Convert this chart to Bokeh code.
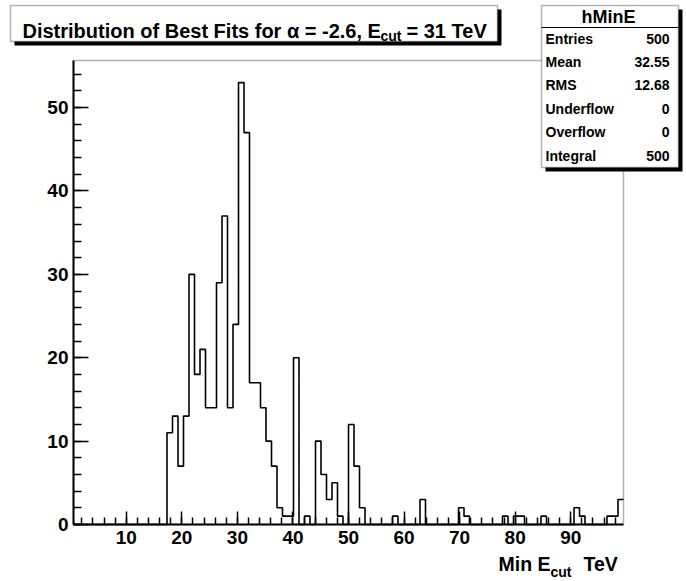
from bokeh.plotting import figure
from bokeh.models import Label, BoxAnnotation, SingleIntervalTicker, Range1d
from bokeh.embed import file_html
from bokeh.resources import INLINE
import numpy as np

# Histogram definition: 100 bins spanning [0.5, 99.5]
X_MIN, X_MAX, N_BINS = 0.5, 99.5, 100

# Bin contents of hMinE (one row = 10 bins)
counts = [
    0, 0, 0, 0, 0, 0, 0, 0, 0, 0,
    0, 0, 0, 0, 0, 0, 0, 11, 13, 7,
    13, 30, 18, 21, 14, 14, 29, 37, 14, 24,
    53, 47, 17, 17, 14, 10, 7, 2, 1, 1,
    20, 0, 1, 0, 10, 6, 3, 5, 1, 0,
    12, 7, 2, 0, 0, 0, 0, 0, 1, 0,
    0, 0, 0, 3, 0, 0, 0, 0, 0, 0,
    2, 1, 0, 0, 0, 0, 0, 0, 1, 0,
    1, 1, 0, 0, 0, 1, 0, 0, 0, 0,
    0, 2, 1, 0, 0, 0, 0, 1, 1, 3,
]

stat_names = ["Entries", "Mean", "RMS", "Underflow", "Overflow", "Integral"]
stat_values = ["500", "32.55", "12.68", "0", "0", "500"]
hist_name = "hMinE"

FONT = "Liberation Sans"

# canvas size and the pixel box that holds the histogram pad
W, H = 686, 581
PAD_L, PAD_R, PAD_T, PAD_B = 73, 623, 60, 524

edges = np.linspace(X_MIN, X_MAX, N_BINS + 1)
Y_MIN, Y_MAX = 0.0, 1.05 * max(counts)

# The plot frame spans the whole canvas so that the title and statistics
# panels can sit anywhere; the data ranges are widened so that the pad
# [X_MIN, X_MAX] x [Y_MIN, Y_MAX] lands on the pad box above.
sx = (PAD_R - PAD_L) / (X_MAX - X_MIN)
sy = (PAD_B - PAD_T) / (Y_MAX - Y_MIN)
x_range = Range1d(X_MIN - PAD_L / sx, X_MAX + (W - PAD_R) / sx)
y_range = Range1d(Y_MIN - (H - PAD_B) / sy, Y_MAX + PAD_T / sy)

p = figure(width=W, height=H, output_backend="svg", toolbar_location=None,
           x_range=x_range, y_range=y_range, min_border=0)
p.grid.visible = False
p.background_fill_color = "white"
p.border_fill_color = "white"
p.outline_line_color = None

# pad frame
p.add_layout(BoxAnnotation(left=X_MIN, right=X_MAX, bottom=Y_MIN, top=Y_MAX,
                           fill_color=None, fill_alpha=0,
                           line_color="black", line_width=1.5))

# histogram outline
p.step(list(edges), counts + [counts[-1]], mode="after",
       line_color="black", line_width=1.6)

p.xaxis.fixed_location = Y_MIN
p.xaxis.bounds = (X_MIN, X_MAX)
p.yaxis.fixed_location = X_MIN
p.yaxis.bounds = (Y_MIN, Y_MAX)

for ax, tin, tmin in ((p.xaxis, 13, 7), (p.yaxis, 15, 8)):
    ax.ticker = SingleIntervalTicker(interval=10, num_minor_ticks=5)
    ax.major_tick_in = tin
    ax.major_tick_out = 0
    ax.minor_tick_in = tmin
    ax.minor_tick_out = 0
    ax.axis_line_width = 2
    ax.major_tick_line_width = 1.5
    ax.minor_tick_line_width = 1.5
    ax.major_label_text_font = FONT
    ax.major_label_text_font_style = "bold"
    ax.major_label_text_font_size = "19px"
    ax.major_label_text_color = "black"
p.xaxis.major_label_standoff = 6
p.yaxis.major_label_standoff = 5


def text(x, y, s, size, align="left", baseline="alphabetic"):
    p.add_layout(Label(x=x, y=y, x_units="canvas", y_units="canvas", text=s,
                       text_font=FONT, text_font_style="bold",
                       text_font_size=f"{size}px", text_align=align,
                       text_baseline=baseline, text_color="black"))


CANVAS = dict(left_units="canvas", right_units="canvas",
              top_units="canvas", bottom_units="canvas")


def panel(left, right, top, bottom, shadow=4):
    p.add_layout(BoxAnnotation(left=left + shadow, right=right + shadow,
                               top=top + shadow, bottom=bottom + shadow,
                               fill_color="black", fill_alpha=1.0,
                               line_color=None, **CANVAS))
    p.add_layout(BoxAnnotation(left=left, right=right, top=top, bottom=bottom,
                               fill_color="white", fill_alpha=1.0,
                               line_color="black", line_width=1.5, **CANVAS))


# title panel
panel(10, 497, 5, 41)
text(22, 30, "Distribution of Best Fits for α = -2.6, E", 20)
text(380, 35, "cut", 14)
text(406, 30, "= 31 TeV", 20)

# statistics panel
panel(541, 678, 5, 167)
p.add_layout(BoxAnnotation(left=541, right=678, top=26.5, bottom=27.5,
                           fill_color="black", fill_alpha=1.0,
                           line_color=None, **CANVAS))
text(608, 16, hist_name, 18, align="center", baseline="middle")
row_y = [38, 61, 84, 108, 131, 155]
for name, val, y in zip(stat_names, stat_values, row_y):
    text(545, y, name, 14, baseline="middle")
    text(669, y, val, 14, align="right", baseline="middle")

# x axis title
text(498, 563, "Min E", 19.5)
text(550, 571, "cut", 14)
text(583, 563, "TeV", 19.5)

open("out.html", "w").write(file_html(p, INLINE))
